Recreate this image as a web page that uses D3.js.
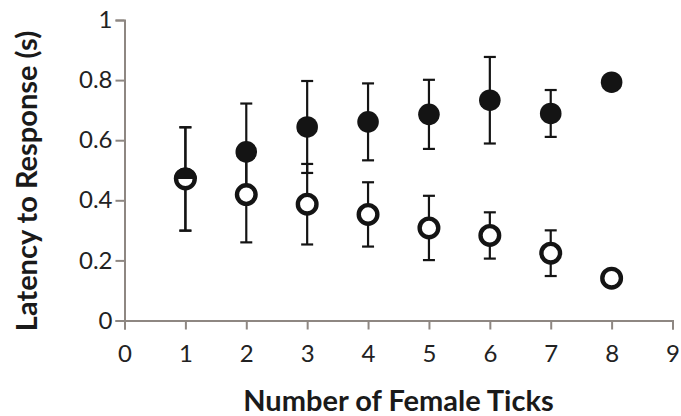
<!DOCTYPE html>
<html>
<head>
<meta charset="utf-8">
<script src="https://cdn.jsdelivr.net/npm/d3@7"></script>
<style>
  html, body { margin: 0; padding: 0; background: #fff; }
  svg { display: block; }
  text { font-family: Lato, "Open Sans", sans-serif; }
</style>
</head>
<body>
<svg id="chart" width="681" height="416"></svg>
<script>
// Number of female ticks on the x axis
const femaleTicks = [1, 2, 3, 4, 5, 6, 7, 8];

// Filled markers: mean latency (s) and error half-widths
const filledMean = [0.471, 0.561, 0.644, 0.661, 0.686, 0.733, 0.689, 0.793];
const filledErr  = [0.172, 0.161, 0.153, 0.128, 0.115, 0.144, 0.078, 0];

// Open markers: mean latency (s) and error half-widths
const openMean = [0.471, 0.419, 0.387, 0.353, 0.308, 0.283, 0.224, 0.141];
const openErr  = [0.172, 0.159, 0.134, 0.107, 0.107, 0.077, 0.076, 0];

// Axis tick values
const xTickValues = [0, 1, 2, 3, 4, 5, 6, 7, 8, 9];
const yTickValues = [0, 0.2, 0.4, 0.6, 0.8, 1];

const xTitle = "Number of Female Ticks";
const yTitle = "Latency to Response (s)";

const svg = d3.select("#chart");
const x = d3.scaleLinear().domain([0, 9]).range([124.5, 672.5]);
const y = d3.scaleLinear().domain([0, 1]).range([320.5, 20]);

const axisColor = "#8e8782";
const inkColor = "#141414";

// Y axis
const yAxis = svg.append("g")
  .attr("transform", `translate(${x(0)},0)`)
  .call(d3.axisLeft(y).tickValues(yTickValues).tickSize(9).tickPadding(3)
        .tickFormat(d => d === 0 ? "0" : d === 1 ? "1" : d3.format(".1f")(d)));
yAxis.select(".domain").attr("stroke", axisColor).attr("stroke-width", 2);
yAxis.selectAll(".tick line").attr("stroke", axisColor).attr("stroke-width", 2);
yAxis.selectAll(".tick text").attr("fill", "#222").attr("font-size", 24);

// X axis
const xAxis = svg.append("g")
  .attr("transform", `translate(0,${y(0)})`)
  .call(d3.axisBottom(x).tickValues(xTickValues).tickSize(9).tickPadding(15)
        .tickFormat(d3.format("d")));
xAxis.select(".domain").attr("stroke", axisColor).attr("stroke-width", 2);
xAxis.selectAll(".tick line").attr("stroke", axisColor).attr("stroke-width", 2);
xAxis.selectAll(".tick text").attr("fill", "#222").attr("font-size", 24);

// Axis titles
svg.append("text")
  .attr("x", (x(0) + x(9)) / 2)
  .attr("y", 411)
  .attr("text-anchor", "middle")
  .attr("font-size", 29)
  .attr("font-weight", "bold")
  .attr("fill", "#1a1a1a")
  .text(xTitle);

svg.append("text")
  .attr("transform", "translate(37,181) rotate(-90)")
  .attr("text-anchor", "middle")
  .attr("font-size", 29)
  .attr("font-weight", "bold")
  .attr("fill", "#1a1a1a")
  .text(yTitle);

// Error bars for both series
const capHalf = 6;
function errorBars(means, errs) {
  const rows = femaleTicks.map((t, i) => ({ t, m: means[i], e: errs[i] })).filter(d => d.e > 0);
  const g = svg.append("g").attr("stroke", inkColor).attr("stroke-width", 2.2);
  g.selectAll("line.stem").data(rows).join("line")
    .attr("x1", d => x(d.t)).attr("x2", d => x(d.t))
    .attr("y1", d => y(d.m + d.e)).attr("y2", d => y(d.m - d.e));
  g.selectAll("line.top").data(rows).join("line")
    .attr("x1", d => x(d.t) - capHalf).attr("x2", d => x(d.t) + capHalf)
    .attr("y1", d => y(d.m + d.e)).attr("y2", d => y(d.m + d.e));
  g.selectAll("line.bot").data(rows).join("line")
    .attr("x1", d => x(d.t) - capHalf).attr("x2", d => x(d.t) + capHalf)
    .attr("y1", d => y(d.m - d.e)).attr("y2", d => y(d.m - d.e));
}
errorBars(filledMean, filledErr);
errorBars(openMean, openErr);

// Open markers
svg.append("g").selectAll("circle").data(femaleTicks).join("circle")
  .attr("cx", t => x(t)).attr("cy", (t, i) => y(openMean[i]))
  .attr("r", 9.3)
  .attr("fill", "#fff").attr("stroke", inkColor).attr("stroke-width", 4.4);

// Filled markers; where both means coincide the filled marker
// shows only its upper half over the open one
const overlap = (i) => Math.abs(filledMean[i] - openMean[i]) < 0.02;
const halfDisc = d3.arc().innerRadius(0).outerRadius(11.5)
  .startAngle(-Math.PI / 2).endAngle(Math.PI / 2);

const fg = svg.append("g");
fg.selectAll("circle").data(femaleTicks.filter((t, i) => !overlap(i))).join("circle")
  .attr("cx", t => x(t)).attr("cy", t => y(filledMean[femaleTicks.indexOf(t)]))
  .attr("r", 10.8).attr("fill", inkColor);
fg.selectAll("path").data(femaleTicks.filter((t, i) => overlap(i))).join("path")
  .attr("transform", t => `translate(${x(t)},${y(filledMean[femaleTicks.indexOf(t)])})`)
  .attr("d", halfDisc()).attr("fill", inkColor);
</script>
</body>
</html>
